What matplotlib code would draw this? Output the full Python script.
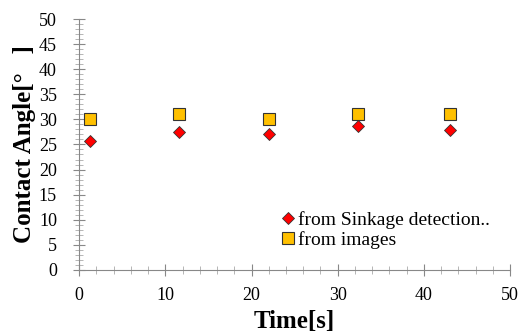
import numpy as np
import matplotlib.pyplot as plt
from matplotlib.ticker import MultipleLocator

time_s = [1.3, 11.6, 22.0, 32.4, 43.0]
angle_sinkage = [25.7, 27.4, 27.0, 28.7, 27.9]
angle_images = [30.0, 31.0, 30.0, 31.0, 31.0]

plt.rcParams['font.family'] = ['Liberation Serif', 'DejaVu Serif']

fig = plt.figure(figsize=(5.21, 3.34), dpi=100)
ax = fig.add_axes([0.152, 0.192, 0.827, 0.751])

ax.plot(time_s, angle_images, 's', color='#FFC000', markeredgecolor='#333333',
        markeredgewidth=0.8, markersize=8.5, label='from images')
ax.plot(time_s, angle_sinkage, 'D', color='red', markeredgecolor='#333333',
        markeredgewidth=0.6, markersize=6, label='from Sinkage detection..')

ax.set_xlim(0, 50)
ax.set_ylim(0, 50)
ax.xaxis.set_major_locator(MultipleLocator(10))
ax.xaxis.set_minor_locator(MultipleLocator(2))
ax.yaxis.set_major_locator(MultipleLocator(5))
ax.yaxis.set_minor_locator(MultipleLocator(1))

for s in ['top', 'right']:
    ax.spines[s].set_visible(False)
for s in ['left', 'bottom']:
    ax.spines[s].set_color('#888888')
ax.tick_params(which='major', direction='inout', length=8, color='#888888', labelsize=13)
ax.tick_params(which='minor', direction='inout', length=6, color='#aaaaaa')
ax.tick_params(axis='x', which='major', pad=8)
ax.tick_params(axis='y', which='major', pad=12)

ax.set_xlabel('Time[s]', fontsize=18, fontweight='bold', labelpad=5)
ax.set_ylabel('Contact Angle[°   ]', fontsize=18, fontweight='bold', labelpad=2)

h, l = ax.get_legend_handles_labels()
ax.legend(h[::-1], l[::-1], loc='lower left', bbox_to_anchor=(0.43, 0.03),
          frameon=False, fontsize=14, handletextpad=0.0, labelspacing=0.1,
          borderpad=0.2, handlelength=1.0)

fig.savefig('out.png')
